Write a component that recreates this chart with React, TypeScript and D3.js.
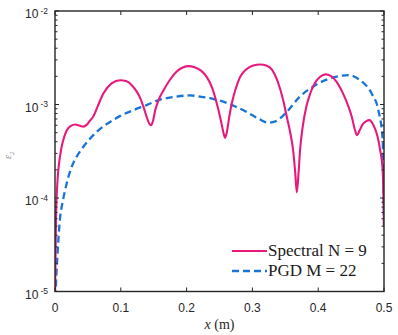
import React from 'react'
import * as d3 from 'd3'

// spectral N = 9 error along x
const spectralX = [0, 0.0015, 0.004, 0.007, 0.010, 0.014, 0.018, 0.024, 0.031, 0.037, 0.043, 0.048, 0.053, 0.058, 0.066, 0.0735, 0.086, 0.099, 0.108, 0.117, 0.124, 0.13, 0.135, 0.1395, 0.1435, 0.146, 0.149, 0.152, 0.157, 0.165, 0.175, 0.185, 0.195, 0.203, 0.212, 0.222, 0.231, 0.239, 0.246, 0.252, 0.256, 0.2585, 0.261, 0.265, 0.269, 0.275, 0.281, 0.29, 0.30, 0.312, 0.322, 0.33, 0.338, 0.347, 0.353, 0.358, 0.362, 0.365, 0.3675, 0.37, 0.3725, 0.376, 0.382, 0.388, 0.395, 0.403, 0.411, 0.419, 0.428, 0.438, 0.446, 0.451, 0.456, 0.459, 0.463, 0.468, 0.473, 0.478, 0.484, 0.49, 0.494, 0.498, 0.5]
const spectralE = [8e-6, 6e-5, 1.6e-4, 2.6e-4, 3.5e-4, 4.5e-4, 5.3e-4, 5.9e-4, 6.1e-4, 5.95e-4, 5.8e-4, 6.05e-4, 6.7e-4, 7.4e-4, 1.0e-3, 1.31e-3, 1.68e-3, 1.82e-3, 1.78e-3, 1.6e-3, 1.38e-3, 1.15e-3, 9.2e-4, 7.3e-4, 6.2e-4, 6.0e-4, 6.7e-4, 8.5e-4, 1.1e-3, 1.42e-3, 1.85e-3, 2.25e-3, 2.5e-3, 2.57e-3, 2.5e-3, 2.3e-3, 1.95e-3, 1.5e-3, 1.02e-3, 6.8e-4, 5.0e-4, 4.4e-4, 5.0e-4, 7.5e-4, 1.05e-3, 1.5e-3, 1.95e-3, 2.35e-3, 2.6e-3, 2.68e-3, 2.6e-3, 2.35e-3, 1.8e-3, 1.1e-3, 7e-4, 4.8e-4, 3.2e-4, 1.9e-4, 1.15e-4, 1.8e-4, 3.3e-4, 5.5e-4, 9.5e-4, 1.32e-3, 1.7e-3, 1.98e-3, 2.1e-3, 2.02e-3, 1.75e-3, 1.3e-3, 9.5e-4, 7.4e-4, 5.3e-4, 4.7e-4, 5.3e-4, 6.2e-4, 6.65e-4, 6.8e-4, 6.0e-4, 4.6e-4, 3.3e-4, 2.0e-4, 5e-5]

// PGD M = 22 error along x
const pgdX = [0, 0.0015, 0.0035, 0.0076, 0.0115, 0.0152, 0.02, 0.0253, 0.032, 0.04, 0.053, 0.07, 0.0836, 0.1, 0.119, 0.14, 0.16, 0.18, 0.205, 0.225, 0.24, 0.251, 0.27, 0.2914, 0.31, 0.324, 0.335, 0.35, 0.372, 0.395, 0.423, 0.446, 0.4635, 0.4813, 0.4914, 0.498, 0.5]
const pgdE = [5e-6, 1.2e-5, 2.3e-5, 6e-5, 9e-5, 1.2e-4, 1.65e-4, 2.15e-4, 2.7e-4, 3.3e-4, 4.3e-4, 5.6e-4, 6.5e-4, 7.6e-4, 8.7e-4, 9.9e-4, 1.13e-3, 1.2e-3, 1.25e-3, 1.2e-3, 1.15e-3, 1.1e-3, 9.8e-4, 8.3e-4, 7.0e-4, 6.4e-4, 6.6e-4, 8.0e-4, 1.21e-3, 1.6e-3, 1.95e-3, 2.06e-3, 1.82e-3, 1.31e-3, 8.7e-4, 4.2e-4, 5e-5]

const xTicks = [0, 0.1, 0.2, 0.3, 0.4, 0.5]
const yDecades = [-5, -4, -3, -2]
const legendLabels = ['Spectral N = 9', 'PGD M = 22']

const W = 398, H = 335
const m = { left: 55, right: 14, top: 11, bottom: 43.5 }
const axisColor = '#262626'
const pink = '#E8197D'
const blue = '#1874D6'

export default function App() {
  const x = d3.scaleLinear().domain([0, 0.5]).range([m.left, W - m.right])
  const y = d3.scaleLog().domain([1e-5, 1e-2]).range([H - m.bottom, m.top])
  const line = d3.line<[number, number]>()
    .x(d => x(d[0]))
    .y(d => y(d[1]))
    .curve(d3.curveMonotoneX)
  const spectral = spectralX.map((v, i) => [v, spectralE[i]] as [number, number])
  const pgd = pgdX.map((v, i) => [v, pgdE[i]] as [number, number])

  const x0 = x(0), x1 = x(0.5), y0 = y(1e-5), y1 = y(1e-2)
  const minor: number[] = []
  for (let d = -5; d < -2; d++) for (let k = 2; k <= 9; k++) minor.push(k * Math.pow(10, d))

  const sans = 'Liberation Sans, Arial, Helvetica, sans-serif'
  const serif = 'Liberation Serif, Times New Roman, serif'

  return (
    <svg width={W} height={H} style={{ position: 'absolute', left: 0, top: 0, background: '#fff' }}>
      <defs>
        <clipPath id="plot">
          <rect x={x0} y={y1} width={x1 - x0} height={y0 - y1} />
        </clipPath>
      </defs>
      <g clipPath="url(#plot)" fill="none">
        <path d={line(pgd) || ''} stroke={blue} strokeWidth={2.3} strokeDasharray="7 4" />
        <path d={line(spectral) || ''} stroke={pink} strokeWidth={2.1} />
      </g>
      {/* ticks */}
      <g stroke={axisColor} strokeWidth={1}>
        {xTicks.map(t => (
          <g key={t}>
            <line x1={x(t)} x2={x(t)} y1={y0} y2={y0 - 4} />
            <line x1={x(t)} x2={x(t)} y1={y1} y2={y1 + 4} />
          </g>
        ))}
        {yDecades.map(d => (
          <g key={d}>
            <line x1={x0} x2={x0 + 4} y1={y(Math.pow(10, d))} y2={y(Math.pow(10, d))} />
            <line x1={x1} x2={x1 - 4} y1={y(Math.pow(10, d))} y2={y(Math.pow(10, d))} />
          </g>
        ))}
        {minor.map(v => (
          <g key={v}>
            <line x1={x0} x2={x0 + 2.5} y1={y(v)} y2={y(v)} />
            <line x1={x1} x2={x1 - 2.5} y1={y(v)} y2={y(v)} />
          </g>
        ))}
      </g>
      <rect x={x0} y={y1} width={x1 - x0} height={y0 - y1} fill="none" stroke={axisColor} strokeWidth={1.4} />
      {/* tick labels */}
      <g fill={axisColor} fontFamily={sans}>
        {xTicks.map(t => (
          <text key={t} x={x(t)} y={312} fontSize={12} textAnchor="middle">{d3.format('')(t)}</text>
        ))}
        {yDecades.map(d => (
          <text key={d} x={48} y={y(Math.pow(10, d)) + 7} fontSize={12} textAnchor="end">
            10<tspan fontSize={8.5} dy={-4.5} dx={2}>{d}</tspan>
          </text>
        ))}
      </g>
      {/* axis labels */}
      <text x={(x0 + x1) / 2} y={329} fontSize={14} fontFamily={serif} textAnchor="middle" fill={axisColor}>
        <tspan fontStyle="italic">x</tspan> (m)
      </text>
      <text transform={`translate(11,${(y0 + y1) / 2 + 4}) rotate(-90)`} fontSize={10} fontFamily={serif} fontStyle="italic" fill="#8a8a8a" textAnchor="middle">
        ε<tspan fontSize={7} dy={3}>2</tspan>
      </text>
      {/* legend */}
      <g fontFamily={serif} fontSize={17} fill="#1a1a1a">
        <line x1={232} x2={267} y1={251} y2={251} stroke={pink} strokeWidth={2.1} />
        <line x1={232} x2={267} y1={271} y2={271} stroke={blue} strokeWidth={2.3} strokeDasharray="7 4" />
        <text x={268} y={256}>{legendLabels[0]}</text>
        <text x={268} y={276}>{legendLabels[1]}</text>
      </g>
    </svg>
  )
}
